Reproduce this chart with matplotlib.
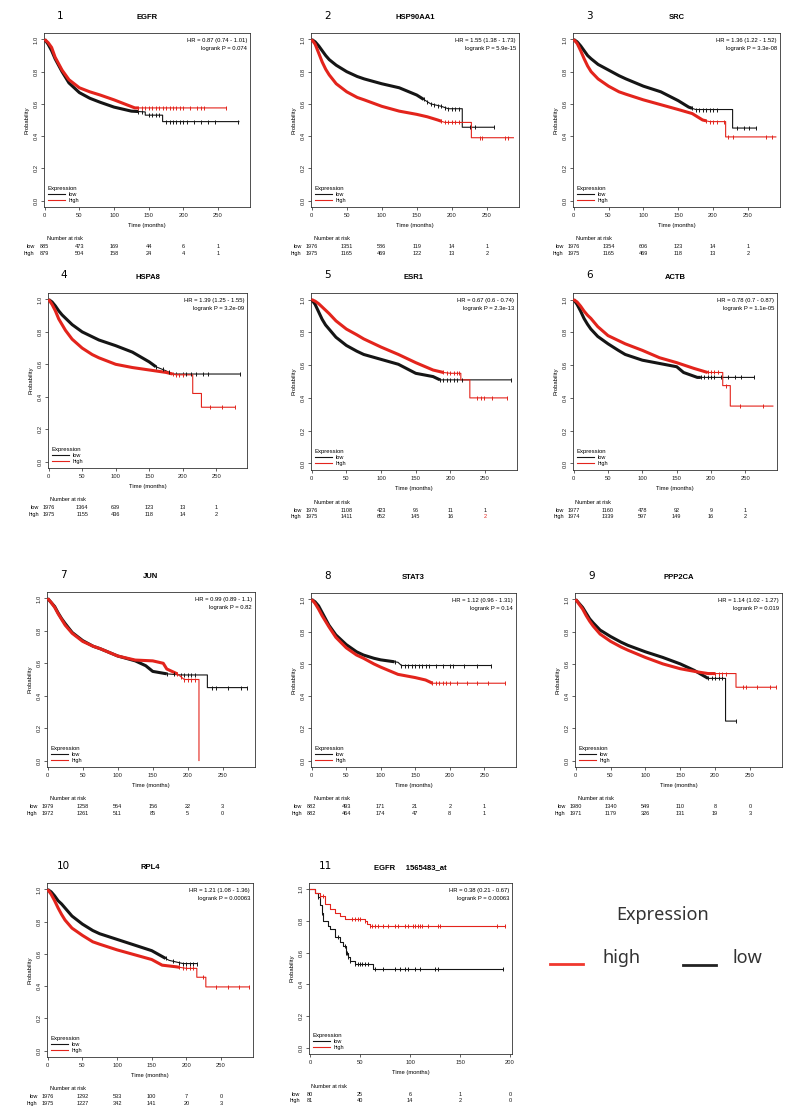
import numpy as np
import matplotlib.pyplot as plt
from matplotlib.lines import Line2D

W, H = 800, 1115
RED = '#e3241c'
BLACK = '#151515'

genes = ['EGFR', 'HSP90AA1', 'SRC', 'HSPA8', 'ESR1', 'ACTB', 'JUN', 'STAT3',
         'PPP2CA', 'RPL4', 'EGFR     1565483_at']
hr_text = ['HR = 0.87 (0.74 - 1.01)', 'HR = 1.55 (1.38 - 1.73)', 'HR = 1.36 (1.22 - 1.52)',
           'HR = 1.39 (1.25 - 1.55)', 'HR = 0.67 (0.6 - 0.74)', 'HR = 0.78 (0.7 - 0.87)',
           'HR = 0.99 (0.89 - 1.1)', 'HR = 1.12 (0.96 - 1.31)', 'HR = 1.14 (1.02 - 1.27)',
           'HR = 1.21 (1.08 - 1.36)', 'HR = 0.38 (0.21 - 0.67)']
p_text = ['logrank P = 0.074', 'logrank P = 5.9e-15', 'logrank P = 3.3e-08',
          'logrank P = 3.2e-09', 'logrank P = 2.3e-13', 'logrank P = 1.1e-05',
          'logrank P = 0.82', 'logrank P = 0.14', 'logrank P = 0.019',
          'logrank P = 0.00063', 'logrank P = 0.00063']

# survival curves: (months, probability)
egfr_low = [(0, 1.0), (5, 0.97), (10, 0.93), (15, 0.88), (20, 0.84), (25, 0.80), (35, 0.73),
            (50, 0.67), (65, 0.635), (80, 0.61), (100, 0.58), (125, 0.555),
            (145, 0.55), (145, 0.53), (170, 0.53), (170, 0.49), (280, 0.49)]
egfr_high = [(0, 1.0), (5, 0.98), (10, 0.95), (15, 0.89), (20, 0.85), (25, 0.81), (35, 0.75),
             (50, 0.70), (65, 0.675), (80, 0.655), (100, 0.625), (115, 0.60), (130, 0.575),
             (262, 0.575)]
hsp_low = [(0, 1.0), (5, 0.985), (10, 0.96), (15, 0.93), (20, 0.90), (25, 0.875), (35, 0.84),
           (50, 0.80), (65, 0.77), (75, 0.755), (100, 0.725), (125, 0.70),
           (150, 0.655), (170, 0.60), (185, 0.585), (195, 0.57), (215, 0.57), (215, 0.455), (260, 0.455)]
hsp_high = [(0, 1.0), (5, 0.97), (10, 0.915), (15, 0.86), (20, 0.815), (25, 0.78), (35, 0.725),
            (50, 0.675), (65, 0.64), (75, 0.625), (100, 0.585), (125, 0.555),
            (150, 0.535), (165, 0.52), (180, 0.50), (190, 0.485), (228, 0.485), (228, 0.39), (288, 0.39)]
src_low = [(0, 1.0), (5, 0.985), (10, 0.96), (15, 0.93), (20, 0.90), (25, 0.88), (35, 0.845),
           (50, 0.81), (65, 0.775), (75, 0.755), (100, 0.71), (125, 0.675),
           (150, 0.62), (165, 0.58), (175, 0.565), (228, 0.565), (228, 0.45), (262, 0.45)]
src_high = [(0, 1.0), (5, 0.975), (10, 0.93), (15, 0.88), (20, 0.835), (25, 0.80), (35, 0.755),
            (50, 0.71), (65, 0.675), (75, 0.66), (100, 0.625), (125, 0.595),
            (150, 0.565), (170, 0.54), (185, 0.50), (195, 0.49), (218, 0.49), (218, 0.395), (290, 0.395)]
hspa_low = [(0, 1.0), (5, 0.985), (10, 0.96), (15, 0.93), (20, 0.905), (25, 0.885), (35, 0.845),
            (50, 0.80), (65, 0.77), (75, 0.75), (100, 0.715), (125, 0.675),
            (150, 0.615), (160, 0.585), (175, 0.56), (185, 0.54), (285, 0.54)]
hspa_high = [(0, 1.0), (5, 0.97), (10, 0.93), (15, 0.88), (20, 0.845), (25, 0.81), (35, 0.755),
             (50, 0.70), (65, 0.66), (75, 0.64), (100, 0.60), (125, 0.58),
             (150, 0.565), (175, 0.55), (190, 0.535), (215, 0.535), (215, 0.42), (228, 0.42),
             (228, 0.335), (278, 0.335)]
esr_low = [(0, 1.0), (5, 0.97), (10, 0.925), (15, 0.88), (20, 0.845), (25, 0.82), (35, 0.77),
           (50, 0.72), (65, 0.685), (75, 0.665), (100, 0.635), (125, 0.605),
           (150, 0.55), (175, 0.53), (185, 0.51), (287, 0.51)]
esr_high = [(0, 1.0), (5, 0.99), (10, 0.975), (15, 0.955), (20, 0.935), (25, 0.915), (35, 0.87),
            (50, 0.82), (65, 0.785), (75, 0.76), (100, 0.71), (125, 0.665),
            (150, 0.615), (175, 0.57), (190, 0.555), (200, 0.55), (215, 0.55), (215, 0.51),
            (228, 0.51), (228, 0.40), (282, 0.40)]
actb_low = [(0, 1.0), (5, 0.97), (10, 0.93), (15, 0.885), (20, 0.85), (25, 0.82), (35, 0.775),
            (50, 0.73), (65, 0.69), (75, 0.665), (100, 0.63), (125, 0.61),
            (150, 0.59), (160, 0.555), (180, 0.525), (262, 0.525)]
actb_high = [(0, 1.0), (5, 0.985), (10, 0.96), (15, 0.93), (20, 0.905), (25, 0.885), (35, 0.835),
             (50, 0.78), (65, 0.75), (75, 0.73), (100, 0.69), (125, 0.645),
             (150, 0.615), (175, 0.58), (195, 0.555), (217, 0.555), (217, 0.475), (228, 0.475),
             (228, 0.35), (290, 0.35)]
jun_low = [(0, 1.0), (5, 0.975), (10, 0.95), (15, 0.91), (20, 0.875), (25, 0.845), (35, 0.79),
           (50, 0.74), (65, 0.705), (75, 0.69), (100, 0.645), (125, 0.615),
           (140, 0.585), (150, 0.55), (170, 0.535), (190, 0.528), (228, 0.528), (228, 0.45), (285, 0.45)]
jun_high = [(0, 1.0), (5, 0.975), (10, 0.945), (15, 0.905), (20, 0.87), (25, 0.835), (35, 0.785),
            (50, 0.735), (65, 0.705), (75, 0.69), (100, 0.645), (125, 0.62),
            (150, 0.615), (165, 0.60), (170, 0.565), (185, 0.535), (195, 0.50), (216, 0.50), (216, 0.0)]
stat_low = [(0, 1.0), (5, 0.985), (10, 0.96), (15, 0.92), (20, 0.88), (25, 0.84), (35, 0.78),
            (50, 0.72), (65, 0.675), (75, 0.655), (90, 0.635), (100, 0.625), (125, 0.61),
            (130, 0.59), (260, 0.59)]
stat_high = [(0, 1.0), (5, 0.975), (10, 0.94), (15, 0.90), (20, 0.865), (25, 0.83), (35, 0.765),
             (50, 0.70), (65, 0.655), (75, 0.635), (90, 0.60), (100, 0.58), (125, 0.535),
             (150, 0.515), (165, 0.50), (175, 0.48), (280, 0.48)]
ppp_low = [(0, 1.0), (5, 0.975), (10, 0.95), (15, 0.915), (20, 0.88), (25, 0.855), (35, 0.81),
           (50, 0.77), (65, 0.735), (75, 0.715), (100, 0.675), (125, 0.64),
           (150, 0.60), (170, 0.56), (190, 0.51), (215, 0.51), (215, 0.245), (230, 0.245)]
ppp_high = [(0, 1.0), (5, 0.97), (10, 0.94), (15, 0.90), (20, 0.865), (25, 0.835), (35, 0.785),
            (50, 0.74), (65, 0.705), (75, 0.685), (100, 0.64), (125, 0.60),
            (150, 0.57), (175, 0.55), (190, 0.54), (230, 0.54), (230, 0.455), (288, 0.455)]
rpl_low = [(0, 1.0), (5, 0.985), (10, 0.96), (15, 0.93), (20, 0.91), (25, 0.885), (35, 0.835),
           (50, 0.785), (65, 0.745), (75, 0.725), (100, 0.69), (125, 0.655),
           (150, 0.62), (175, 0.56), (195, 0.54), (215, 0.54)]
rpl_high = [(0, 1.0), (5, 0.97), (10, 0.93), (15, 0.885), (20, 0.845), (25, 0.81), (35, 0.76),
            (50, 0.715), (65, 0.675), (75, 0.66), (100, 0.625), (125, 0.595),
            (150, 0.565), (165, 0.53), (185, 0.52), (200, 0.51), (215, 0.51), (215, 0.455),
            (228, 0.455), (228, 0.395), (290, 0.395)]
egfr2_low = [(0, 1.0), (5, 0.975), (8, 0.95), (10, 0.90), (12, 0.85), (13, 0.80), (18, 0.77),
             (20, 0.75), (25, 0.70), (30, 0.67), (33, 0.64), (36, 0.60), (38, 0.57), (40, 0.55),
             (45, 0.53), (63, 0.50), (193, 0.50)]
egfr2_high = [(0, 1.0), (5, 0.98), (10, 0.96), (15, 0.905), (20, 0.875), (25, 0.85), (30, 0.83),
              (35, 0.815), (45, 0.81), (55, 0.80), (57, 0.78), (60, 0.77), (195, 0.77)]

# censoring marks (months)
egfr_low_cens = [135, 140, 150, 155, 160, 165, 175, 180, 185, 190, 195, 200, 205, 215, 225, 235, 245, 278]
egfr_high_cens = [135, 140, 145, 150, 155, 160, 165, 170, 175, 180, 185, 190, 195, 200, 210, 220, 225, 230, 262]
hsp_low_cens = [160, 165, 170, 175, 180, 185, 190, 195, 200, 205, 210, 226, 233, 260]
hsp_high_cens = [185, 190, 195, 200, 205, 210, 240, 243, 276, 280]
src_low_cens = [170, 175, 180, 185, 190, 195, 200, 205, 235, 245, 252, 262]
src_high_cens = [190, 195, 200, 205, 215, 221, 228, 276, 284]
hspa_low_cens = [160, 170, 180, 190, 200, 205, 212, 220, 230, 238, 285]
hspa_high_cens = [185, 190, 195, 200, 241, 258, 278]
esr_low_cens = [185, 190, 195, 200, 205, 210, 216, 287]
esr_high_cens = [190, 195, 200, 205, 210, 213, 239, 244, 248, 260, 282]
actb_low_cens = [185, 190, 195, 200, 205, 215, 225, 235, 243, 262]
actb_high_cens = [195, 200, 205, 210, 222, 242, 276]
jun_low_cens = [170, 180, 190, 195, 200, 205, 210, 234, 241, 258, 276, 285]
jun_high_cens = [185, 190, 195, 200, 205, 210]
stat_low_cens = [120, 130, 135, 140, 145, 150, 155, 160, 165, 170, 180, 190, 200, 205, 220, 240, 260]
stat_high_cens = [175, 180, 185, 190, 195, 200, 210, 225, 240, 255, 280]
ppp_low_cens = [190, 195, 200, 205, 210, 230]
ppp_high_cens = [200, 205, 210, 215, 240, 245, 260, 279, 288]
rpl_low_cens = [170, 180, 190, 195, 200, 205, 210, 215]
rpl_high_cens = [190, 195, 200, 205, 210, 224, 243, 260, 276, 290]
egfr2_low_cens = [8, 12, 28, 35, 36, 37, 38, 40, 45, 48, 50, 52, 55, 58, 65, 73, 85, 90, 95, 98,
                  105, 110, 125, 128, 193]
egfr2_high_cens = [10, 13, 42, 45, 48, 50, 55, 60, 62, 65, 68, 73, 78, 85, 88, 95, 98, 103, 105,
                   108, 110, 112, 118, 128, 130, 187, 195]

# number at risk
risk_low = [[885, 473, 169, 44, 6, 1], [1976, 1351, 586, 119, 14, 1], [1976, 1354, 606, 123, 14, 1],
            [1976, 1364, 639, 123, 13, 1], [1976, 1108, 423, 96, 11, 1], [1977, 1160, 478, 92, 9, 1],
            [1979, 1258, 564, 156, 22, 3], [882, 493, 171, 21, 2, 1], [1980, 1340, 549, 110, 8, 0],
            [1976, 1292, 533, 100, 7, 0], [80, 25, 6, 1, 0]]
risk_high = [[879, 504, 158, 24, 4, 1], [1975, 1165, 469, 122, 13, 2], [1975, 1165, 469, 118, 13, 2],
             [1975, 1155, 436, 118, 14, 2], [1975, 1411, 652, 145, 16, 2], [1974, 1339, 597, 149, 16, 2],
             [1972, 1261, 511, 85, 5, 0], [882, 464, 174, 47, 8, 1], [1971, 1179, 326, 131, 19, 3],
             [1975, 1227, 342, 141, 20, 3], [81, 40, 14, 2, 0]]

lows = [egfr_low, hsp_low, src_low, hspa_low, esr_low, actb_low, jun_low, stat_low, ppp_low, rpl_low, egfr2_low]
highs = [egfr_high, hsp_high, src_high, hspa_high, esr_high, actb_high, jun_high, stat_high, ppp_high,
         rpl_high, egfr2_high]
lows_cens = [egfr_low_cens, hsp_low_cens, src_low_cens, hspa_low_cens, esr_low_cens, actb_low_cens,
             jun_low_cens, stat_low_cens, ppp_low_cens, rpl_low_cens, egfr2_low_cens]
highs_cens = [egfr_high_cens, hsp_high_cens, src_high_cens, hspa_high_cens, esr_high_cens,
              actb_high_cens, jun_high_cens, stat_high_cens, ppp_high_cens, rpl_high_cens, egfr2_high_cens]

# axes boxes in pixels: left, top, right, bottom
boxes = [(44, 33, 250, 207), (311, 33, 519, 207), (573, 33, 780, 207),
         (48, 293, 247, 468), (311, 293, 517, 470), (573, 293, 777, 470),
         (47, 592, 255, 767), (311, 593, 516, 767), (575, 593, 782, 767),
         (47, 883, 253, 1057), (309, 883, 512, 1054)]

plt.rcParams['font.family'] = ['Liberation Sans', 'DejaVu Sans']

fig = plt.figure(figsize=(W / 100, H / 100), dpi=100)


def draw_curve(ax, pts, cens, color, steps):
    t = np.array([p[0] for p in pts], dtype=float)
    s = np.array([p[1] for p in pts], dtype=float)
    ds = 'steps-post' if steps else 'default'
    ax.plot(t, s, color=color, lw=0.8, drawstyle=ds, zorder=3)
    if not steps and cens:
        # heavy censoring makes the early part of the curve look thick
        cut = cens[0]
        keep = t <= cut
        tt = np.append(t[keep], cut)
        ss = np.append(s[keep], np.interp(cut, t, s))
        ax.plot(tt, ss, color=color, lw=2.2, zorder=3, solid_capstyle='butt')
    if steps:
        cy = [s[np.searchsorted(t, c, side='right') - 1] for c in cens]
    else:
        cy = np.interp(cens, t, s)
    ax.plot(cens, cy, ls='none', marker='|', ms=3.5, mew=0.7, color=color, zorder=4)


for i in range(11):
    l, t, r, b = boxes[i]
    ax = fig.add_axes([l / W, 1 - b / H, (r - l) / W, (b - t) / H])
    small = i == 10
    draw_curve(ax, lows[i], lows_cens[i], BLACK, small)
    draw_curve(ax, highs[i], highs_cens[i], RED, small)

    xticks = [0, 50, 100, 150, 200] if small else [0, 50, 100, 150, 200, 250]
    ax.set_xlim(-1, 202 if small else 296)
    ax.set_ylim(-0.04, 1.04)
    ax.set_xticks(xticks)
    ax.set_yticks([0, 0.2, 0.4, 0.6, 0.8, 1.0])
    ax.set_yticklabels(['0.0', '0.2', '0.4', '0.6', '0.8', '1.0'], rotation=90, va='center')
    ax.tick_params(labelsize=4.2, length=2.5, width=0.5, pad=1.5, colors='#222222')
    for sp in ax.spines.values():
        sp.set_linewidth(0.6)
        sp.set_color('#333333')
    ax.set_xlabel('Time (months)', fontsize=4.2, labelpad=4)
    ax.set_ylabel('Probability', fontsize=4.2, labelpad=3)

    ax.text(0.5, 1.09, genes[i], transform=ax.transAxes, ha='center', va='center',
            fontsize=5.5, fontweight='bold')
    ax.text(0.08, 1.1, str(i + 1), transform=ax.transAxes, ha='center', va='center',
            fontsize=7.5, family='DejaVu Sans')
    ax.text(0.985, 0.955, hr_text[i], transform=ax.transAxes, ha='right', va='center', fontsize=4.2)
    ax.text(0.985, 0.91, p_text[i], transform=ax.transAxes, ha='right', va='center', fontsize=4.2)

    handles = [Line2D([], [], color=BLACK, lw=0.8), Line2D([], [], color=RED, lw=0.8)]
    leg = ax.legend(handles, ['low', 'high'], title='Expression', loc='lower left', frameon=False,
                    fontsize=4, title_fontsize=4.3, handlelength=3, borderaxespad=0.3,
                    labelspacing=0.2, handletextpad=0.8)
    leg._legend_box.align = 'left'

    # number at risk table
    trans = ax.get_xaxis_transform()
    hgt = b - t
    ax.text(0.1, -32 / hgt, 'Number at risk', transform=ax.transAxes, ha='center', va='center',
            fontsize=4)
    for row, (lab, counts) in enumerate([('low', risk_low[i]), ('high', risk_high[i])]):
        yy = -(40 + 6.5 * row) / hgt
        ax.text(-0.045, yy, lab, transform=ax.transAxes, ha='right', va='center', fontsize=4)
        for j, (x, c) in enumerate(zip(xticks, counts)):
            col = RED if (i == 4 and row == 1 and j == len(counts) - 1) else '#111111'
            ax.text(x, yy, str(c), transform=trans, ha='center', va='center', fontsize=4,
                    color=col, clip_on=False)

# big shared legend
fig.text(663 / W, 1 - 915 / H, 'Expression', ha='center', va='center', fontsize=13,
         color='#333333', family='Noto Sans')
fig.add_artist(Line2D([550 / W, 583 / W], [1 - 964 / H] * 2, color='#f0382e', lw=2))
fig.add_artist(Line2D([683 / W, 716 / W], [1 - 965 / H] * 2, color='#222222', lw=2))
fig.text(622 / W, 1 - 958 / H, 'high', ha='center', va='center', fontsize=13,
         color='#333333', family='Noto Sans')
fig.text(747 / W, 1 - 958 / H, 'low', ha='center', va='center', fontsize=13,
         color='#333333', family='Noto Sans')

fig.savefig('out.png', dpi=100, facecolor='white')
